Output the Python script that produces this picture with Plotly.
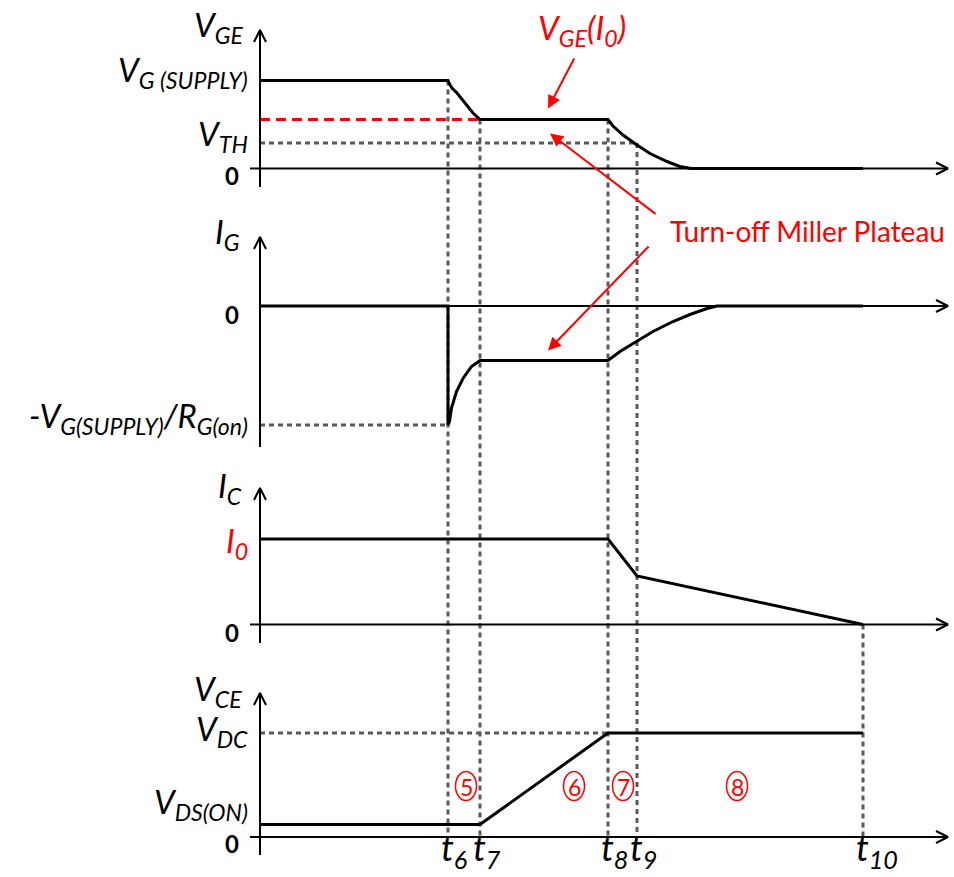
import plotly.graph_objects as go

FONT = "Lato"
BLACK = "#000000"
RED = "#FF0000"
GREY = "#595959"

# ---------------- data (arbitrary units; time measured from the vertical axis) ----------------
t_labels = ["t<sub>6</sub>", "t<sub>7</sub>", "t<sub>8</sub>", "t<sub>9</sub>", "t<sub>10</sub>"]
t_values = [188, 220, 348, 377, 603]

# gate-emitter voltage V_GE
VG_SUPPLY = 88
VGE_I0 = 49
V_TH = 25.5
vge_time = [0, 188, 189.5, 192, 197, 205, 213, 220, 348, 353, 363, 377, 390, 407, 420, 431, 603]
vge_value = [88, 88, 84.5, 80.5, 75.5, 65.5, 55.5, 49, 49, 42.5, 33.5, 23.5, 15, 7, 2, 0, 0]

# gate current I_G
IG_MIN = -119
IG_PLATEAU = -54.5
ig_time = [0, 188, 188, 189.5, 191.5, 196.5, 203, 211.5, 220, 348, 360, 377, 393, 413, 430, 447, 457, 603]
ig_value = [0, 0, -119, -115.5, -102, -85.5, -72.5, -60.5, -54.5, -54.5, -45.5, -35.5, -25.5, -15.5, -8.5, -2.5, 0, 0]

# collector current I_C
I0 = 85.5
ic_time = [0, 348, 377, 603]
ic_value = [85.5, 85.5, 48.5, 0]

# collector-emitter voltage V_CE
VDC = 104
VDS_ON = 12.5
vce_time = [0, 220, 348, 603]
vce_value = [12.5, 12.5, 104, 104]

# interval markers
interval_labels = ["5", "6", "7", "8"]
interval_pos = [206, 314, 363, 477]

# ---------------- layout constants ----------------
W, H = 954, 877
AX_X = 260                      # pixel column of the vertical axes
BASE = [708.5, 571, 252.5, 40]  # baseline (zero) of each panel in plot units
AXIS_LO = [-18.5, -141, -18.5, -18]
AXIS_HI = [138.5, 69, 136.5, 144]
ZERO_TICK = [-10, 0, -10, -10]
X_END = 688
CHEV_L, CHEV_W = 12, 6
MAIN = 33


def px(xp):
    return xp - AX_X


def py(yp):
    return H - yp


fig = go.Figure()


def line(x, y, color=BLACK, width=3, dash=None):
    fig.add_trace(go.Scatter(x=x, y=y, mode="lines", hoverinfo="skip",
                             line=dict(color=color, width=width, dash=dash)))


DASH = "5px,4px"

# vertical dashed time markers
tops = [BASE[0] + VG_SUPPLY, BASE[0] + VGE_I0, BASE[0] + VGE_I0, BASE[0] + V_TH, BASE[2]]
for t, top in zip(t_values, tops):
    line([t, t], [top, BASE[3]], GREY, 3, DASH)

# horizontal dashed reference levels
line([0, t_values[3]], [BASE[0] + V_TH] * 2, GREY, 3, DASH)
line([0, t_values[0]], [BASE[1] + IG_MIN] * 2, GREY, 3, DASH)
line([0, t_values[2]], [BASE[3] + VDC] * 2, GREY, 3, DASH)
line([0, t_values[1]], [BASE[0] + VGE_I0] * 2, RED, 3, "10px,6px")

# axes with open arrow heads
for k in range(4):
    b = BASE[k]
    line([0, 0], [b + AXIS_LO[k], b + AXIS_HI[k]], BLACK, 2)
    line([-CHEV_W, 0, CHEV_W], [b + AXIS_HI[k] - CHEV_L, b + AXIS_HI[k], b + AXIS_HI[k] - CHEV_L], BLACK, 2)
    line([ZERO_TICK[k], X_END], [b, b], BLACK, 2)
    line([X_END - CHEV_L, X_END, X_END - CHEV_L], [b + CHEV_W, b, b - CHEV_W], BLACK, 2)

# waveforms
line(vge_time, [BASE[0] + v for v in vge_value])
line(ig_time, [BASE[1] + v for v in ig_value])
line(ic_time, [BASE[2] + v for v in ic_value])
line(vce_time, [BASE[3] + v for v in vce_value])

ann = []


def label(text, x, y, size=MAIN, color=BLACK, xanchor="right", yanchor="middle"):
    ann.append(dict(text=text, x=x, y=y, xref="x", yref="y", showarrow=False,
                    xanchor=xanchor, yanchor=yanchor,
                    font=dict(family=FONT, size=size, color=color)))


LX = px(250)
label("<i>V<sub>GE</sub></i>", LX - 5, py(26))
label("<i>V<sub>G (SUPPLY)</sub></i>", LX, BASE[0] + VG_SUPPLY + 9)
label("<i>V<sub>TH</sub></i>", LX, BASE[0] + V_TH + 8)
label("<i>I<sub>G</sub></i>", LX - 8, py(233))
label("<i>-V<sub>G(SUPPLY)</sub>/R<sub>G(on)</sub></i>", LX, BASE[1] + IG_MIN + 8)
label("<i>I<sub>C</sub></i>", LX - 6, py(487))
label("<i>I<sub>0</sub></i>", LX, BASE[2] + I0 - 3, color=RED)
label("<i>V<sub>CE</sub></i>", LX - 6, py(690))
label("<i>V<sub>DC</sub></i>", LX, BASE[3] + VDC + 3)
label("<i>V<sub>DS(ON)</sub></i>", LX, BASE[3] + VDS_ON + 21)
for k, dy in zip([0, 1, 2, 3], [-7, -8, -8, -6]):
    label("<b>0</b>", px(241), BASE[k] + dy, size=24)

for t, name in zip(t_values, t_labels):
    label("<i>" + name + "</i>", t - 9, py(876), size=36, xanchor="left", yanchor="bottom")

for x, name in zip(interval_pos, interval_labels):
    label(name, x, BASE[3] + 50, size=23, color=RED, xanchor="center")
    fig.add_shape(type="circle", xref="x", yref="y", x0=x - 10.5, x1=x + 10.5,
                  y0=BASE[3] + 51 - 14.5, y1=BASE[3] + 51 + 14.5,
                  line=dict(color=RED, width=1.5))

label("<i>V<sub>GE</sub>(I<sub>0</sub>)</i>", px(582), py(29), color=RED, xanchor="center")
label("Turn-off Miller Plateau", px(807), py(231), size=28, color=RED, xanchor="center")


def arrow(tail, head):
    ann.append(dict(text="", x=head[0], y=head[1], ax=tail[0], ay=tail[1],
                    xref="x", yref="y", axref="x", ayref="y", showarrow=True,
                    arrowhead=2, arrowsize=1.3, arrowwidth=2, arrowcolor=RED))


arrow((px(575), py(57)), (px(548), BASE[0] + VGE_I0 + 11))
arrow((px(657), py(215)), (px(550), BASE[0] + VGE_I0 - 14))
arrow((px(650), py(245)), (px(548), BASE[1] + IG_PLATEAU + 10))

fig.update_layout(
    width=W, height=H, margin=dict(l=0, r=0, t=0, b=0),
    paper_bgcolor="white", plot_bgcolor="white", showlegend=False,
    xaxis=dict(range=[-AX_X, W - AX_X], visible=False, fixedrange=True),
    yaxis=dict(range=[0, H], visible=False, fixedrange=True),
    annotations=ann,
)

fig.write_html("out.html")
